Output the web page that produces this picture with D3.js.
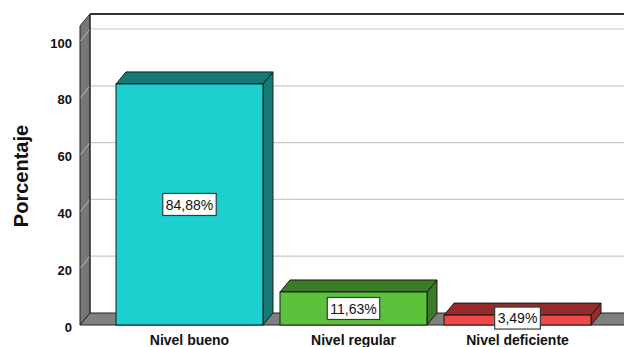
<!DOCTYPE html>
<html>
<head>
<meta charset="utf-8">
<script src="https://cdn.jsdelivr.net/npm/d3@7"></script>
<style>
  html, body { margin: 0; padding: 0; background: #fff; }
  svg { display: block; }
</style>
</head>
<body>
<svg id="chart" width="624" height="347"></svg>
<script>
// Categories, values and tick labels
const categories = ["Nivel bueno", "Nivel regular", "Nivel deficiente"];
const values = [84.88, 11.63, 3.49];
const valueLabels = ["84,88%", "11,63%", "3,49%"];
const tickValues = [0, 20, 40, 60, 80, 100];
const frontColors = ["#1dcfcf", "#5cc23c", "#ee4848"];
const shadeColors = ["#137a78", "#3b7a26", "#962b2b"];

const W = 624, H = 347;
const svg = d3.select("#chart");

// 3D depth offset of the walls and bars
const dx = 10, dy = -12;
const axisX = 80;
const rightX = W;

const y = d3.scaleLinear().domain([0, 100]).range([325, 41]);
const yTopWall = y(105.3);

const x = d3.scaleBand().domain(categories).range([116, 591])
  .paddingInner(0.104).paddingOuter(0);

const fontFamily = "'Liberation Sans', Arial, sans-serif";

// Back wall
svg.append("rect")
  .attr("x", axisX + dx).attr("y", yTopWall + dy)
  .attr("width", rightX - axisX - dx).attr("height", y(0) - yTopWall)
  .attr("fill", "#fff");

// Gridlines on back wall
svg.append("g").selectAll("line").data(tickValues.filter(d => d > 0)).join("line")
  .attr("x1", axisX + dx).attr("x2", rightX)
  .attr("y1", d => y(d) + dy).attr("y2", d => y(d) + dy)
  .attr("stroke", "#c8c8c8").attr("stroke-width", 1.2);

// Left wall
const leftWall = [[axisX, y(0)], [axisX, yTopWall], [axisX + dx, yTopWall + dy], [axisX + dx, y(0) + dy]];
svg.append("polygon")
  .attr("points", leftWall.map(p => p.join(",")).join(" "))
  .attr("fill", "#777").attr("stroke", "#222").attr("stroke-width", 1);

// Gridline segments across left wall
svg.append("g").selectAll("line").data(tickValues.filter(d => d > 0)).join("line")
  .attr("x1", axisX + 0.5).attr("x2", axisX + dx)
  .attr("y1", d => y(d)).attr("y2", d => y(d) + dy)
  .attr("stroke", "#b8b8b8").attr("stroke-width", 1);

// Back wall top and left edges
svg.append("line")
  .attr("x1", axisX + dx).attr("x2", rightX)
  .attr("y1", yTopWall + dy).attr("y2", yTopWall + dy)
  .attr("stroke", "#333").attr("stroke-width", 2);
svg.append("line")
  .attr("x1", axisX + dx).attr("x2", axisX + dx)
  .attr("y1", yTopWall + dy).attr("y2", y(0) + dy)
  .attr("stroke", "#222").attr("stroke-width", 1);

// Floor
const floor = [[axisX, y(0)], [axisX + dx, y(0) + dy], [rightX + 2, y(0) + dy], [rightX + 2, y(0)]];
svg.append("polygon")
  .attr("points", floor.map(p => p.join(",")).join(" "))
  .attr("fill", "#808080").attr("stroke", "#222").attr("stroke-width", 1);

// Bars
const bars = svg.append("g");
categories.forEach((c, i) => {
  const x0 = x(c), x1 = x(c) + x.bandwidth();
  const yt = y(values[i]), yb = y(0);
  const g = bars.append("g");
  // side face
  g.append("polygon")
    .attr("points", [[x1, yt], [x1 + dx, yt + dy], [x1 + dx, yb + dy], [x1, yb]].map(p => p.join(",")).join(" "))
    .attr("fill", shadeColors[i]).attr("stroke", "#1a1a1a").attr("stroke-width", 1)
    .attr("stroke-linejoin", "round");
  // top face
  g.append("polygon")
    .attr("points", [[x0, yt], [x0 + dx, yt + dy], [x1 + dx, yt + dy], [x1, yt]].map(p => p.join(",")).join(" "))
    .attr("fill", shadeColors[i]).attr("stroke", "#1a1a1a").attr("stroke-width", 1)
    .attr("stroke-linejoin", "round");
  // front face
  g.append("rect")
    .attr("x", x0).attr("y", yt).attr("width", x1 - x0).attr("height", yb - yt)
    .attr("fill", frontColors[i]).attr("stroke", "#1a1a1a").attr("stroke-width", 1);
});

// Value labels
const labels = svg.append("g");
categories.forEach((c, i) => {
  const cx = x(c) + x.bandwidth() / 2;
  const cy = (y(values[i]) + y(0)) / 2 - (i === 2 ? 2 : 0);
  const t = labels.append("text")
    .attr("x", cx).attr("y", cy).attr("dy", "0.36em")
    .attr("text-anchor", "middle")
    .attr("font-family", fontFamily).attr("font-size", 14)
    .attr("fill", "#111").text(valueLabels[i]);
  const bb = t.node().getBBox();
  labels.insert("rect", "text")
    .attr("x", bb.x - 3).attr("y", cy - 11).attr("width", bb.width + 6).attr("height", 22)
    .attr("fill", "#fff").attr("stroke", "#2f3f3f").attr("stroke-width", 1.2);
});

// Y axis tick labels
const yAxis = d3.axisLeft(y).tickValues(tickValues).tickSize(0).tickPadding(8);
const ga = svg.append("g").attr("transform", `translate(${axisX},2)`).call(yAxis);
ga.select(".domain").remove();
ga.selectAll("text")
  .attr("font-family", fontFamily).attr("font-size", 13).attr("font-weight", "bold")
  .attr("fill", "#111");

// Category labels
svg.append("g").selectAll("text").data(categories).join("text")
  .attr("x", d => x(d) + x.bandwidth() / 2).attr("y", 345)
  .attr("text-anchor", "middle")
  .attr("font-family", fontFamily).attr("font-size", 14).attr("font-weight", "bold")
  .attr("fill", "#111").text(d => d);

// Axis title
svg.append("text")
  .attr("transform", `translate(28,176) rotate(-90)`)
  .attr("text-anchor", "middle")
  .attr("font-family", fontFamily).attr("font-size", 20).attr("font-weight", "bold")
  .attr("fill", "#111").text("Porcentaje");
</script>
</body>
</html>
